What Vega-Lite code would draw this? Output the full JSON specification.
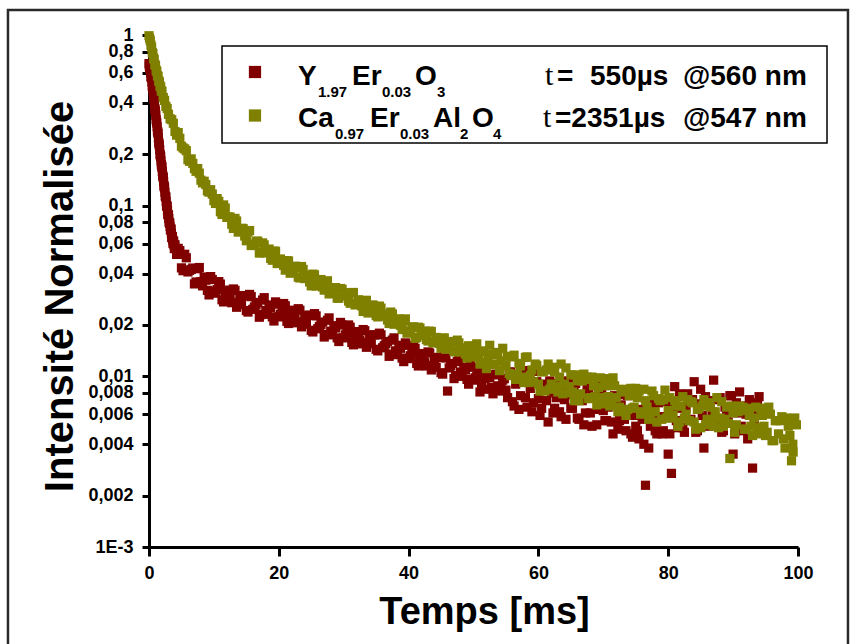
{
 "$schema": "https://vega.github.io/schema/vega-lite/v6.json",
 "width": 649, "height": 512,
 "autosize": {"type": "none"},
 "padding": {"left": 149, "top": 35, "right": 55, "bottom": 97},
 "background": "white",
 "config": {
  "view": {"stroke": null},
  "axis": {"domainColor": "black", "domainWidth": 3, "tickColor": "black", "tickWidth": 3, "labelColor": "black", "labelFont": "Liberation Sans", "labelFontWeight": "bold", "labelFontSize": 18, "titleColor": "black", "grid": false, "labelOverlap": false, "labelFlush": false, "labelBound": false}
 },
 "datasets": {
  "frame": [{"t": -21.73, "t2": 107.7, "v": 1.401, "v2": 0.000249}],
  "box": [{"t": 11.25, "t2": 104.47, "v": 0.862, "v2": 0.233}],
  "red": [
   {"t":0,"v":0.68},{"t":0.1,"v":0.64},{"t":0.2,"v":0.63},{"t":0.3,"v":0.57},{"t":0.4,"v":0.56},{"t":0.5,"v":0.5},{"t":0.6,"v":0.49},{"t":0.7,"v":0.44},{"t":0.8,"v":0.42},{"t":0.9,"v":0.37},
   {"t":1,"v":0.355},{"t":1.1,"v":0.32},{"t":1.2,"v":0.305},{"t":1.3,"v":0.275},{"t":1.4,"v":0.265},{"t":1.5,"v":0.235},{"t":1.6,"v":0.225},{"t":1.7,"v":0.2},{"t":1.8,"v":0.193},{"t":1.9,"v":0.174},
   {"t":2,"v":0.168},{"t":2.1,"v":0.151},{"t":2.2,"v":0.146},{"t":2.3,"v":0.131},{"t":2.4,"v":0.127},{"t":2.5,"v":0.114},{"t":2.6,"v":0.112},{"t":2.7,"v":0.1},{"t":2.8,"v":0.099},{"t":2.9,"v":0.089},
   {"t":3,"v":0.088},{"t":3.1,"v":0.08},{"t":3.2,"v":0.079},{"t":3.3,"v":0.072},{"t":3.4,"v":0.073},{"t":3.5,"v":0.065},{"t":3.6,"v":0.066},{"t":3.7,"v":0.06},{"t":3.8,"v":0.062},{"t":3.9,"v":0.056},
   {"t":0.05,"v":0.66},{"t":0.15,"v":0.635},{"t":0.25,"v":0.6},{"t":0.35,"v":0.565},{"t":0.45,"v":0.53},{"t":0.55,"v":0.495},{"t":0.65,"v":0.465},{"t":0.75,"v":0.43},{"t":0.85,"v":0.395},{"t":0.95,"v":0.362},
   {"t":1.05,"v":0.338},{"t":1.15,"v":0.312},{"t":1.25,"v":0.29},{"t":1.35,"v":0.27},{"t":1.45,"v":0.25},{"t":1.55,"v":0.23},{"t":1.65,"v":0.213},{"t":1.75,"v":0.197},{"t":1.85,"v":0.183},{"t":1.95,"v":0.171},
   {"t":2.05,"v":0.159},{"t":2.15,"v":0.148},{"t":2.25,"v":0.138},{"t":2.35,"v":0.129},{"t":2.45,"v":0.12},{"t":2.55,"v":0.113},{"t":2.65,"v":0.106},{"t":2.75,"v":0.0995},{"t":2.85,"v":0.094},{"t":2.95,"v":0.0885},
   {"t":3.05,"v":0.084},{"t":3.15,"v":0.0795},{"t":3.25,"v":0.0755},{"t":3.35,"v":0.0725},{"t":3.45,"v":0.069},{"t":3.55,"v":0.0655},{"t":3.65,"v":0.063},{"t":3.75,"v":0.061},{"t":3.85,"v":0.059},{"t":3.95,"v":0.0575},
   {"t":4,"v":0.059},{"t":4.5,"v":0.0562},{"t":5,"v":0.0432},{"t":5.5,"v":0.0519},{"t":6,"v":0.0409},{"t":6.5,"v":0.0423},{"t":7,"v":0.0348},{"t":7.5,"v":0.0427},{"t":8,"v":0.0359},{"t":8.5,"v":0.0382},
   {"t":9,"v":0.0319},{"t":9.5,"v":0.0384},{"t":10,"v":0.0307},{"t":10.5,"v":0.0322},{"t":11,"v":0.0347},{"t":11.5,"v":0.0273},{"t":12,"v":0.0314},{"t":12.5,"v":0.0284},{"t":13,"v":0.0325},{"t":13.5,"v":0.0254},
   {"t":14,"v":0.0294},{"t":14.5,"v":0.0297},{"t":15,"v":0.0243},{"t":15.5,"v":0.0302},{"t":16,"v":0.0247},{"t":16.5,"v":0.0262},{"t":17,"v":0.0222},{"t":17.5,"v":0.028},{"t":18,"v":0.0243},{"t":18.5,"v":0.0262},
   {"t":19,"v":0.0223},{"t":19.5,"v":0.0273},{"t":20,"v":0.0223},{"t":20.5,"v":0.0237},{"t":21,"v":0.0259},{"t":21.5,"v":0.0204},{"t":22,"v":0.0239},{"t":22.5,"v":0.0217},{"t":23,"v":0.0249},{"t":23.5,"v":0.0195},
   {"t":24,"v":0.0226},{"t":24.5,"v":0.0228},{"t":25,"v":0.0186},{"t":25.5,"v":0.0233},{"t":26,"v":0.019},{"t":26.5,"v":0.0201},{"t":27,"v":0.017},{"t":27.5,"v":0.0213},{"t":28,"v":0.0184},{"t":28.5,"v":0.0198},
   {"t":29,"v":0.0168},{"t":29.5,"v":0.0207},{"t":30,"v":0.0168},{"t":30.5,"v":0.0179},{"t":31,"v":0.0194},{"t":31.5,"v":0.0153},{"t":32,"v":0.0179},{"t":32.5,"v":0.0163},{"t":33,"v":0.0188},{"t":33.5,"v":0.0148},
   {"t":34,"v":0.0172},{"t":34.5,"v":0.0175},{"t":35,"v":0.0144},{"t":35.5,"v":0.0179},{"t":36,"v":0.0147},{"t":36.5,"v":0.0155},{"t":37,"v":0.0131},{"t":37.5,"v":0.0163},{"t":38,"v":0.0141},{"t":38.5,"v":0.0152},
   {"t":39,"v":0.0128},{"t":39.5,"v":0.0157},{"t":40,"v":0.0127},{"t":40.5,"v":0.0135},{"t":41,"v":0.0146},{"t":41.5,"v":0.0115},{"t":42,"v":0.0133},{"t":42.5,"v":0.0121},{"t":43,"v":0.0139},{"t":43.5,"v":0.0109},
   {"t":44,"v":0.0126},{"t":44.5,"v":0.0129},{"t":45,"v":0.0105},{"t":45.5,"v":0.0131},{"t":46,"v":0.0082},{"t":46.5,"v":0.0115},{"t":47,"v":0.0097},{"t":47.5,"v":0.0122},{"t":48,"v":0.0106},{"t":48.5,"v":0.0113},
   {"t":49,"v":0.0096},{"t":49.5,"v":0.0118},{"t":50,"v":0.0095},{"t":50.5,"v":0.01},{"t":51,"v":0.0081},{"t":51.5,"v":0.0107},{"t":52,"v":0.0084},{"t":52.5,"v":0.0098},{"t":53,"v":0.0079},{"t":53.5,"v":0.0103},
   {"t":54,"v":0.0082},{"t":54.5,"v":0.0095},{"t":55,"v":0.0083},{"t":55.5,"v":0.0106},{"t":56,"v":0.0071},{"t":56.5,"v":0.009},{"t":57,"v":0.0064},{"t":57.5,"v":0.0108},{"t":58,"v":0.0075},{"t":58.5,"v":0.0092},
   {"t":59,"v":0.0062},{"t":59.5,"v":0.0107},{"t":60,"v":0.0074},{"t":60.5,"v":0.0065},{"t":61,"v":0.009},{"t":61.5,"v":0.0054},{"t":62,"v":0.008},{"t":62.5,"v":0.0065},{"t":63,"v":0.0091},{"t":63.5,"v":0.0058},
   {"t":64,"v":0.0073},{"t":64.5,"v":0.0094},{"t":65,"v":0.0065},{"t":65.5,"v":0.0085},{"t":66,"v":0.0057},{"t":66.5,"v":0.0074},{"t":67,"v":0.0052},{"t":67.5,"v":0.0088},{"t":68,"v":0.0061},{"t":68.5,"v":0.0076},
   {"t":69,"v":0.0052},{"t":69.5,"v":0.009},{"t":70,"v":0.0063},{"t":70.5,"v":0.0055},{"t":71,"v":0.0076},{"t":71.5,"v":0.0046},{"t":72,"v":0.0068},{"t":72.5,"v":0.0055},{"t":73,"v":0.0078},{"t":73.5,"v":0.0048},
   {"t":74,"v":0.0059},{"t":74.5,"v":0.0044},{"t":75,"v":0.0051},{"t":75.5,"v":0.0043},{"t":76,"v":0.0056},{"t":76.5,"v":0.0023},{"t":77,"v":0.0038},{"t":77.5,"v":0.0058},{"t":78,"v":0.0048},{"t":78.5,"v":0.007},
   {"t":79,"v":0.0046},{"t":79.5,"v":0.0058},{"t":80,"v":0.0035},{"t":80.5,"v":0.0027},{"t":81,"v":0.0087},{"t":81.5,"v":0.005},{"t":82,"v":0.0065},{"t":82.5,"v":0.0047},{"t":83,"v":0.0079},{"t":83.5,"v":0.0056},
   {"t":84,"v":0.0093},{"t":84.5,"v":0.0048},{"t":85,"v":0.0084},{"t":85.5,"v":0.0038},{"t":86,"v":0.0052},{"t":86.5,"v":0.0072},{"t":87,"v":0.0095},{"t":87.5,"v":0.0053},{"t":88,"v":0.0075},{"t":88.5,"v":0.0048},
   {"t":89,"v":0.006},{"t":89.5,"v":0.0077},{"t":90,"v":0.0035},{"t":90.5,"v":0.007},{"t":91,"v":0.0081},{"t":91.5,"v":0.0048},{"t":92,"v":0.006},{"t":92.5,"v":0.0073},{"t":93,"v":0.0029},{"t":93.5,"v":0.0063},
   {"t":94,"v":0.0076},
   {"t":4.25,"v":0.0518},{"t":4.75,"v":0.0545},{"t":5.25,"v":0.0416},{"t":5.75,"v":0.0495},{"t":6.25,"v":0.0418},{"t":6.75,"v":0.0431},{"t":7.25,"v":0.0357},{"t":7.75,"v":0.0434},{"t":8.25,"v":0.0339},{"t":8.75,"v":0.0366},
   {"t":9.25,"v":0.03},{"t":9.75,"v":0.0369},{"t":10.25,"v":0.0316},{"t":10.75,"v":0.0359},{"t":11.25,"v":0.0281},{"t":11.75,"v":0.0309},{"t":12.25,"v":0.032},{"t":12.75,"v":0.027},{"t":13.25,"v":0.0319},{"t":13.75,"v":0.0271},
   {"t":14.25,"v":0.0263},{"t":14.75,"v":0.0296},{"t":15.25,"v":0.0238},{"t":15.75,"v":0.0293},{"t":16.25,"v":0.0255},{"t":16.75,"v":0.0271},{"t":17.25,"v":0.023},{"t":17.75,"v":0.0289},{"t":18.25,"v":0.0231},{"t":18.75,"v":0.0253},
   {"t":19.25,"v":0.0211},{"t":19.75,"v":0.0265},{"t":20.25,"v":0.0231},{"t":20.75,"v":0.0267},{"t":21.25,"v":0.021},{"t":21.75,"v":0.0233},{"t":22.25,"v":0.0244},{"t":22.75,"v":0.0206},{"t":23.25,"v":0.0244},{"t":23.75,"v":0.0208},
   {"t":24.25,"v":0.0202},{"t":24.75,"v":0.0228},{"t":25.25,"v":0.0182},{"t":25.75,"v":0.0226},{"t":26.25,"v":0.0196},{"t":26.75,"v":0.0208},{"t":27.25,"v":0.0176},{"t":27.75,"v":0.022},{"t":28.25,"v":0.0175},{"t":28.75,"v":0.0192},
   {"t":29.25,"v":0.016},{"t":29.75,"v":0.02},{"t":30.25,"v":0.0175},{"t":30.75,"v":0.02},{"t":31.25,"v":0.0158},{"t":31.75,"v":0.0175},{"t":32.25,"v":0.0183},{"t":32.75,"v":0.0155},{"t":33.25,"v":0.0185},{"t":33.75,"v":0.0158},
   {"t":34.25,"v":0.0155},{"t":34.75,"v":0.0175},{"t":35.25,"v":0.0141},{"t":35.75,"v":0.0175},{"t":36.25,"v":0.0151},{"t":36.75,"v":0.016},{"t":37.25,"v":0.0135},{"t":37.75,"v":0.0168},{"t":38.25,"v":0.0134},{"t":38.75,"v":0.0146},
   {"t":39.25,"v":0.0122},{"t":39.75,"v":0.0152},{"t":40.25,"v":0.0132},{"t":40.75,"v":0.0151},{"t":41.25,"v":0.0119},{"t":41.75,"v":0.013},{"t":42.25,"v":0.0136},{"t":42.75,"v":0.0115},{"t":43.25,"v":0.0137},{"t":43.75,"v":0.0116},
   {"t":44.25,"v":0.0113},{"t":44.75,"v":0.0129},{"t":45.25,"v":0.0103},{"t":45.75,"v":0.0128},{"t":46.25,"v":0.0112},{"t":46.75,"v":0.0119},{"t":47.25,"v":0.0101},{"t":47.75,"v":0.0125},{"t":48.25,"v":0.01},{"t":48.75,"v":0.0109},
   {"t":49.25,"v":0.009},{"t":49.75,"v":0.0113},{"t":50.25,"v":0.0098},{"t":50.75,"v":0.0112},{"t":51.25,"v":0.0088},{"t":51.75,"v":0.0097},{"t":52.25,"v":0.0101},{"t":52.75,"v":0.0086},{"t":53.25,"v":0.0102},{"t":53.75,"v":0.0088},
   {"t":54.25,"v":0.0086},{"t":54.75,"v":0.0097},{"t":55.25,"v":0.0075},{"t":55.75,"v":0.0106},{"t":56.25,"v":0.0067},{"t":56.75,"v":0.0094},{"t":57.25,"v":0.0077},{"t":57.75,"v":0.0108},{"t":58.25,"v":0.0066},{"t":58.75,"v":0.0085},
   {"t":59.25,"v":0.007},{"t":59.75,"v":0.0093},{"t":60.25,"v":0.0059},{"t":60.75,"v":0.0086},{"t":61.25,"v":0.0072},{"t":61.75,"v":0.0094},{"t":62.25,"v":0.0061},{"t":62.75,"v":0.0075},{"t":63.25,"v":0.0062},{"t":63.75,"v":0.0088},
   {"t":64.25,"v":0.0056},{"t":64.75,"v":0.0078},{"t":65.25,"v":0.0065},{"t":65.75,"v":0.0091},{"t":66.25,"v":0.0056},{"t":66.75,"v":0.0072},{"t":67.25,"v":0.0061},{"t":67.75,"v":0.008},{"t":68.25,"v":0.0051},{"t":68.75,"v":0.0075},
   {"t":69.25,"v":0.0064},{"t":69.75,"v":0.0083},{"t":70.25,"v":0.0055},{"t":70.75,"v":0.0066},{"t":71.25,"v":0.0054},{"t":71.75,"v":0.0077},{"t":72.25,"v":0.0049},{"t":72.75,"v":0.0068},{"t":73.25,"v":0.0056},{"t":73.75,"v":0.0077},
   {"t":74.25,"v":0.0046},{"t":74.75,"v":0.0059},{"t":75.25,"v":0.0048},{"t":75.75,"v":0.0064},{"t":76.25,"v":0.004},{"t":76.75,"v":0.0059},{"t":77.25,"v":0.0051},{"t":77.75,"v":0.0069},{"t":78.25,"v":0.0046},{"t":78.75,"v":0.0058},
   {"t":79.25,"v":0.0048},{"t":79.75,"v":0.0071},{"t":80.25,"v":0.0046},{"t":80.75,"v":0.0066},{"t":81.25,"v":0.0055},{"t":81.75,"v":0.0079},{"t":82.25,"v":0.005},{"t":82.75,"v":0.0065},{"t":83.25,"v":0.0055},{"t":83.75,"v":0.0073},
   {"t":84.25,"v":0.0047},{"t":84.75,"v":0.0069},{"t":85.25,"v":0.0059},{"t":85.75,"v":0.0076},{"t":86.25,"v":0.0051},{"t":86.75,"v":0.0062},{"t":87.25,"v":0.0052},{"t":87.75,"v":0.0073},{"t":88.25,"v":0.0047},{"t":88.75,"v":0.0066},
   {"t":89.25,"v":0.0054},{"t":89.75,"v":0.0077},{"t":90.25,"v":0.0046},{"t":90.75,"v":0.0061},{"t":91.25,"v":0.0051},{"t":91.75,"v":0.0067},{"t":92.25,"v":0.0043},{"t":92.75,"v":0.0064},{"t":93.25,"v":0.0053},{"t":93.75,"v":0.007}
  ],
  "olive": [
   {"t":0,"v":0.99},{"t":0.1,"v":0.955},{"t":0.2,"v":0.925},{"t":0.3,"v":0.872},{"t":0.4,"v":0.848},{"t":0.5,"v":0.79},{"t":0.6,"v":0.778},{"t":0.7,"v":0.732},{"t":0.8,"v":0.718},{"t":0.9,"v":0.672},
   {"t":1,"v":0.662},{"t":1.1,"v":0.622},{"t":1.2,"v":0.612},{"t":1.3,"v":0.578},{"t":1.4,"v":0.572},{"t":1.5,"v":0.538},{"t":1.6,"v":0.531},{"t":1.7,"v":0.502},{"t":1.8,"v":0.497},{"t":1.9,"v":0.471},
   {"t":2,"v":0.467},{"t":2.2,"v":0.43},{"t":2.4,"v":0.414},{"t":2.6,"v":0.382},{"t":2.8,"v":0.371},{"t":3,"v":0.343},{"t":3.5,"v":0.319},{"t":4,"v":0.272},{"t":4.5,"v":0.268},{"t":5,"v":0.223},
   {"t":5.5,"v":0.215},{"t":6,"v":0.186},{"t":6.5,"v":0.188},{"t":7,"v":0.165},{"t":7.5,"v":0.165},{"t":8,"v":0.141},{"t":8.5,"v":0.139},{"t":9,"v":0.122},{"t":9.5,"v":0.124},{"t":10,"v":0.107},
   {"t":10.5,"v":0.11},{"t":11,"v":0.0921},{"t":11.5,"v":0.101},{"t":12,"v":0.0854},{"t":12.5,"v":0.0857},{"t":13,"v":0.0736},{"t":13.5,"v":0.0813},{"t":14,"v":0.0723},{"t":14.5,"v":0.0735},{"t":15,"v":0.0623},
   {"t":15.5,"v":0.0715},{"t":16,"v":0.0595},{"t":16.5,"v":0.0618},{"t":17,"v":0.0528},{"t":17.5,"v":0.0605},{"t":18,"v":0.0529},{"t":18.5,"v":0.0557},{"t":19,"v":0.0479},{"t":19.5,"v":0.054},{"t":20,"v":0.0466},
   {"t":20.5,"v":0.0476},{"t":21,"v":0.0419},{"t":21.5,"v":0.0474},{"t":22,"v":0.0428},{"t":22.5,"v":0.0442},{"t":23,"v":0.0381},{"t":23.5,"v":0.044},{"t":24,"v":0.0374},{"t":24.5,"v":0.0391},{"t":25,"v":0.0339},
   {"t":25.5,"v":0.0393},{"t":26,"v":0.0349},{"t":26.5,"v":0.0369},{"t":27,"v":0.032},{"t":27.5,"v":0.0363},{"t":28,"v":0.0316},{"t":28.5,"v":0.0325},{"t":29,"v":0.0287},{"t":29.5,"v":0.0327},{"t":30,"v":0.0297},
   {"t":30.5,"v":0.0309},{"t":31,"v":0.0268},{"t":31.5,"v":0.031},{"t":32,"v":0.0265},{"t":32.5,"v":0.0278},{"t":33,"v":0.024},{"t":33.5,"v":0.0279},{"t":34,"v":0.0247},{"t":34.5,"v":0.0262},{"t":35,"v":0.0227},
   {"t":35.5,"v":0.0258},{"t":36,"v":0.0225},{"t":36.5,"v":0.0232},{"t":37,"v":0.0204},{"t":37.5,"v":0.0232},{"t":38,"v":0.021},{"t":38.5,"v":0.0217},{"t":39,"v":0.0188},{"t":39.5,"v":0.0217},{"t":40,"v":0.0184},
   {"t":40.5,"v":0.0194},{"t":41,"v":0.0167},{"t":41.5,"v":0.0194},{"t":42,"v":0.0173},{"t":42.5,"v":0.0184},{"t":43,"v":0.0161},{"t":43.5,"v":0.0183},{"t":44,"v":0.016},{"t":44.5,"v":0.0165},{"t":45,"v":0.0146},
   {"t":45.5,"v":0.0168},{"t":46,"v":0.0153},{"t":46.5,"v":0.016},{"t":47,"v":0.014},{"t":47.5,"v":0.0163},{"t":48,"v":0.0139},{"t":48.5,"v":0.0147},{"t":49,"v":0.0128},{"t":49.5,"v":0.015},{"t":50,"v":0.0134},
   {"t":50.5,"v":0.0155},{"t":51,"v":0.0118},{"t":51.5,"v":0.0139},{"t":52,"v":0.0111},{"t":52.5,"v":0.0152},{"t":53,"v":0.0118},{"t":53.5,"v":0.0138},{"t":54,"v":0.0108},{"t":54.5,"v":0.0146},{"t":55,"v":0.0116},
   {"t":55.5,"v":0.0104},{"t":56,"v":0.013},{"t":56.5,"v":0.0096},{"t":57,"v":0.0119},{"t":57.5,"v":0.0099},{"t":58,"v":0.0129},{"t":58.5,"v":0.0092},{"t":59,"v":0.0109},{"t":59.5,"v":0.0118},{"t":60,"v":0.009},
   {"t":60.5,"v":0.0106},{"t":61,"v":0.0082},{"t":61.5,"v":0.0118},{"t":62,"v":0.009},{"t":62.5,"v":0.0106},{"t":63,"v":0.0081},{"t":63.5,"v":0.0118},{"t":64,"v":0.009},{"t":64.5,"v":0.008},{"t":65,"v":0.0102},
   {"t":65.5,"v":0.0072},{"t":66,"v":0.0094},{"t":66.5,"v":0.0079},{"t":67,"v":0.0103},{"t":67.5,"v":0.0099},{"t":68,"v":0.0075},{"t":68.5,"v":0.0088},{"t":69,"v":0.0068},{"t":69.5,"v":0.0098},{"t":70,"v":0.0075},
   {"t":70.5,"v":0.0088},{"t":71,"v":0.0067},{"t":71.5,"v":0.0098},{"t":72,"v":0.0075},{"t":72.5,"v":0.0066},{"t":73,"v":0.0084},{"t":73.5,"v":0.0059},{"t":74,"v":0.0077},{"t":74.5,"v":0.0065},{"t":75,"v":0.0085},
   {"t":75.5,"v":0.0082},{"t":76,"v":0.0062},{"t":76.5,"v":0.0072},{"t":77,"v":0.0056},{"t":77.5,"v":0.0082},{"t":78,"v":0.0062},{"t":78.5,"v":0.0074},{"t":79,"v":0.0056},{"t":79.5,"v":0.0083},{"t":80,"v":0.0063},
   {"t":80.5,"v":0.0057},{"t":81,"v":0.0072},{"t":81.5,"v":0.0051},{"t":82,"v":0.0067},{"t":82.5,"v":0.0057},{"t":83,"v":0.0073},{"t":83.5,"v":0.0071},{"t":84,"v":0.0054},{"t":84.5,"v":0.0064},{"t":85,"v":0.005},
   {"t":85.5,"v":0.0073},{"t":86,"v":0.0056},{"t":86.5,"v":0.0066},{"t":87,"v":0.0051},{"t":87.5,"v":0.0075},{"t":88,"v":0.0057},{"t":88.5,"v":0.0051},{"t":89,"v":0.0066},{"t":89.5,"v":0.0033},{"t":90,"v":0.0061},
   {"t":90.5,"v":0.0052},{"t":91,"v":0.0067},{"t":91.5,"v":0.0066},{"t":92,"v":0.0049},{"t":92.5,"v":0.0059},{"t":93,"v":0.0045},{"t":93.5,"v":0.0066},{"t":94,"v":0.005},{"t":94.5,"v":0.0059},{"t":95,"v":0.0045},
   {"t":95.5,"v":0.0066},{"t":96,"v":0.0042},{"t":96.5,"v":0.0055},{"t":97,"v":0.0046},{"t":97.5,"v":0.0058},{"t":98,"v":0.0038},{"t":98.5,"v":0.0051},{"t":99,"v":0.0032},{"t":99.2,"v":0.004},{"t":99.5,"v":0.0057},
   {"t":3.25,"v":0.323},{"t":3.75,"v":0.304},{"t":4.25,"v":0.259},{"t":4.75,"v":0.248},{"t":5.25,"v":0.218},{"t":5.75,"v":0.21},{"t":6.25,"v":0.182},{"t":6.75,"v":0.177},{"t":7.25,"v":0.159},{"t":7.75,"v":0.155},
   {"t":8.25,"v":0.136},{"t":8.75,"v":0.133},{"t":9.25,"v":0.12},{"t":9.75,"v":0.117},{"t":10.25,"v":0.103},{"t":10.75,"v":0.106},{"t":11.25,"v":0.0888},{"t":11.75,"v":0.0968},{"t":12.25,"v":0.086},{"t":12.75,"v":0.0779},
   {"t":13.25,"v":0.0842},{"t":13.75,"v":0.07},{"t":14.25,"v":0.0736},{"t":14.75,"v":0.0664},{"t":15.25,"v":0.07},{"t":15.75,"v":0.0584},{"t":16.25,"v":0.0586},{"t":16.75,"v":0.062},{"t":17.25,"v":0.053},{"t":17.75,"v":0.0589},
   {"t":18.25,"v":0.0532},{"t":18.75,"v":0.0491},{"t":19.25,"v":0.0542},{"t":19.75,"v":0.0458},{"t":20.25,"v":0.0487},{"t":20.75,"v":0.0447},{"t":21.25,"v":0.0476},{"t":21.75,"v":0.0402},{"t":22.25,"v":0.0409},{"t":22.75,"v":0.0436},
   {"t":23.25,"v":0.0377},{"t":23.75,"v":0.0423},{"t":24.25,"v":0.0385},{"t":24.75,"v":0.0357},{"t":25.25,"v":0.0397},{"t":25.75,"v":0.0338},{"t":26.25,"v":0.0363},{"t":26.75,"v":0.0334},{"t":27.25,"v":0.0356},{"t":27.75,"v":0.0304},
   {"t":28.25,"v":0.0309},{"t":28.75,"v":0.0331},{"t":29.25,"v":0.0287},{"t":29.75,"v":0.0324},{"t":30.25,"v":0.0297},{"t":30.75,"v":0.0276},{"t":31.25,"v":0.0308},{"t":31.75,"v":0.0262},{"t":32.25,"v":0.0281},{"t":32.75,"v":0.0259},
   {"t":33.25,"v":0.0277},{"t":33.75,"v":0.0235},{"t":34.25,"v":0.024},{"t":34.75,"v":0.0257},{"t":35.25,"v":0.0223},{"t":35.75,"v":0.0251},{"t":36.25,"v":0.023},{"t":36.75,"v":0.0214},{"t":37.25,"v":0.0238},{"t":37.75,"v":0.0202},
   {"t":38.25,"v":0.0216},{"t":38.75,"v":0.0199},{"t":39.25,"v":0.0212},{"t":39.75,"v":0.0179},{"t":40.25,"v":0.0182},{"t":40.75,"v":0.0195},{"t":41.25,"v":0.0169},{"t":41.75,"v":0.0192},{"t":42.25,"v":0.0176},{"t":42.75,"v":0.0164},
   {"t":43.25,"v":0.0184},{"t":43.75,"v":0.0157},{"t":44.25,"v":0.0169},{"t":44.75,"v":0.0156},{"t":45.25,"v":0.0167},{"t":45.75,"v":0.0144},{"t":46.25,"v":0.0148},{"t":46.75,"v":0.0159},{"t":47.25,"v":0.0139},{"t":47.75,"v":0.0157},
   {"t":48.25,"v":0.0144},{"t":48.75,"v":0.0135},{"t":49.25,"v":0.0151},{"t":49.75,"v":0.013},{"t":50.25,"v":0.014},{"t":50.75,"v":0.013},{"t":51.25,"v":0.0141},{"t":51.75,"v":0.0121},{"t":52.25,"v":0.0124},{"t":52.75,"v":0.0134},
   {"t":53.25,"v":0.0117},{"t":53.75,"v":0.0134},{"t":54.25,"v":0.0123},{"t":54.75,"v":0.0115},{"t":55.25,"v":0.0131},{"t":55.75,"v":0.0101},{"t":56.25,"v":0.0133},{"t":56.75,"v":0.0103},{"t":57.25,"v":0.0115},{"t":57.75,"v":0.0092},
   {"t":58.25,"v":0.013},{"t":58.75,"v":0.0101},{"t":59.25,"v":0.0093},{"t":59.75,"v":0.0116},{"t":60.25,"v":0.0082},{"t":60.75,"v":0.0107},{"t":61.25,"v":0.0109},{"t":61.75,"v":0.0084},{"t":62.25,"v":0.0113},{"t":62.75,"v":0.0087},
   {"t":63.25,"v":0.0099},{"t":63.75,"v":0.0079},{"t":64.25,"v":0.0112},{"t":64.75,"v":0.0087},{"t":65.25,"v":0.0081},{"t":65.75,"v":0.0102},{"t":66.25,"v":0.0072},{"t":66.75,"v":0.0094},{"t":67.25,"v":0.0096},{"t":67.75,"v":0.0074},
   {"t":68.25,"v":0.0099},{"t":68.75,"v":0.0076},{"t":69.25,"v":0.0086},{"t":69.75,"v":0.0069},{"t":70.25,"v":0.0097},{"t":70.75,"v":0.0076},{"t":71.25,"v":0.007},{"t":71.75,"v":0.0088},{"t":72.25,"v":0.0062},{"t":72.75,"v":0.0081},
   {"t":73.25,"v":0.0083},{"t":73.75,"v":0.0064},{"t":74.25,"v":0.0085},{"t":74.75,"v":0.0066},{"t":75.25,"v":0.0075},{"t":75.75,"v":0.006},{"t":76.25,"v":0.0084},{"t":76.75,"v":0.0066},{"t":77.25,"v":0.0061},{"t":77.75,"v":0.0077},
   {"t":78.25,"v":0.0054},{"t":78.75,"v":0.0072},{"t":79.25,"v":0.0073},{"t":79.75,"v":0.0057},{"t":80.25,"v":0.0075},{"t":80.75,"v":0.0059},{"t":81.25,"v":0.0067},{"t":81.75,"v":0.0054},{"t":82.25,"v":0.0076},{"t":82.75,"v":0.006},
   {"t":83.25,"v":0.0055},{"t":83.75,"v":0.007},{"t":84.25,"v":0.0049},{"t":84.75,"v":0.0065},{"t":85.25,"v":0.0067},{"t":85.75,"v":0.0052},{"t":86.25,"v":0.007},{"t":86.75,"v":0.0055},{"t":87.25,"v":0.0062},{"t":87.75,"v":0.005},
   {"t":88.25,"v":0.0071},{"t":88.75,"v":0.0056},{"t":89.25,"v":0.0053},{"t":89.75,"v":0.0067},{"t":90.25,"v":0.0047},{"t":90.75,"v":0.0062},{"t":91.25,"v":0.0063},{"t":91.75,"v":0.0049},{"t":92.25,"v":0.0065},{"t":92.75,"v":0.0051},
   {"t":93.25,"v":0.0057},{"t":93.75,"v":0.0046},{"t":94.25,"v":0.0065},{"t":94.75,"v":0.0051},{"t":95.25,"v":0.0047},{"t":95.75,"v":0.006},{"t":96.25,"v":0.0042},{"t":96.75,"v":0.0055},{"t":97.25,"v":0.0055},{"t":97.75,"v":0.0043},
   {"t":98.25,"v":0.0057},{"t":98.75,"v":0.0045},{"t":99.25,"v":0.0036},{"t":99.75,"v":0.0052}
  ],
  "legendSym": [{"t": 16.33, "v": 0.607, "s": "Y"}, {"t": 16.33, "v": 0.3375, "s": "Ca"}],
  "legendMain": [
   {"t":22.96,"v":0.5093,"txt":"Y"},{"t":31.28,"v":0.5093,"txt":"Er"},{"t":40.99,"v":0.5093,"txt":"O"},{"t":62.87,"v":0.5093,"txt":"="},{"t":67.95,"v":0.5093,"txt":"550µs"},{"t":82.28,"v":0.5093,"txt":"@560 nm"},
   {"t":22.96,"v":0.289,"txt":"Ca"},{"t":34.05,"v":0.289,"txt":"Er"},{"t":43.76,"v":0.289,"txt":"Al"},{"t":49.77,"v":0.289,"txt":"O"},{"t":62.56,"v":0.289,"txt":"=2351µs"},{"t":82.28,"v":0.289,"txt":"@547 nm"}
  ],
  "legendSub": [
   {"t":26.04,"v":0.4331,"txt":"1.97"},{"t":35.9,"v":0.4331,"txt":"0.03"},{"t":44.38,"v":0.4331,"txt":"3"},
   {"t":28.66,"v":0.2458,"txt":"0.97"},{"t":38.67,"v":0.2458,"txt":"0.03"},{"t":47.92,"v":0.2458,"txt":"2"},{"t":53.0,"v":0.2458,"txt":"4"}
  ],
  "legendT": [{"t":61.02,"v":0.5093,"txt":"t"},{"t":60.71,"v":0.289,"txt":"t"}]
 },
 "encoding": {
  "x": {"field": "t", "type": "quantitative", "scale": {"domain": [0, 100], "nice": false, "zero": false},
        "axis": {"values": [0, 20, 40, 60, 80, 100], "format": "d", "tickSize": 9, "labelPadding": 8, "title": "Temps [ms]", "titleFont": "Liberation Sans", "titleFontSize": 38, "titleFontWeight": "bold", "titleX": 335, "titleY": 76, "titleBaseline": "alphabetic", "titleAlign": "center"}},
  "y": {"field": "v", "type": "quantitative", "scale": {"type": "log", "domain": [0.001, 1], "nice": false},
        "axis": {"values": [0.001, 0.002, 0.004, 0.006, 0.008, 0.01, 0.02, 0.04, 0.06, 0.08, 0.1, 0.2, 0.4, 0.6, 0.8, 1], "labelExpr": "datum.value < 0.0015 ? '1E-3' : replace(toString(datum.value), '.', ',')", "tickSize": 7, "labelPadding": 9, "title": "Intensité Normalisée", "titleFont": "Liberation Sans", "titleFontSize": 40, "titleFontWeight": "bold", "titleX": -77, "titleY": 261, "titleBaseline": "alphabetic", "titleAlign": "center", "titleAngle": 270}}
 },
 "layer": [
  {"data": {"name": "frame"}, "mark": {"type": "rect", "filled": false, "color": "#2a2a2a", "strokeWidth": 2.5, "clip": false}, "encoding": {"x2": {"field": "t2"}, "y2": {"field": "v2"}}},
  {"data": {"name": "box"}, "mark": {"type": "rect", "fill": "white", "stroke": "black", "strokeWidth": 1.5, "clip": false}, "encoding": {"x2": {"field": "t2"}, "y2": {"field": "v2"}}},
  {"data": {"name": "red"}, "mark": {"type": "point", "shape": "square", "filled": true, "color": "#800000", "size": 85, "opacity": 1}},
  {"data": {"name": "olive"}, "mark": {"type": "point", "shape": "square", "filled": true, "color": "#808000", "size": 85, "opacity": 1}},
  {"data": {"name": "legendSym"}, "mark": {"type": "point", "shape": "square", "filled": true, "size": 150, "opacity": 1},
   "encoding": {"color": {"field": "s", "type": "nominal", "scale": {"domain": ["Y", "Ca"], "range": ["#800000", "#808000"]}, "legend": null}}},
  {"data": {"name": "legendMain"}, "mark": {"type": "text", "font": "Liberation Sans", "fontWeight": "bold", "fontSize": 28, "align": "left", "baseline": "alphabetic", "color": "black"}, "encoding": {"text": {"field": "txt"}}},
  {"data": {"name": "legendSub"}, "mark": {"type": "text", "font": "Liberation Sans", "fontWeight": "bold", "fontSize": 15, "align": "left", "baseline": "alphabetic", "color": "black"}, "encoding": {"text": {"field": "txt"}}},
  {"data": {"name": "legendT"}, "mark": {"type": "text", "font": "Liberation Serif", "fontSize": 30, "align": "left", "baseline": "alphabetic", "color": "black"}, "encoding": {"text": {"field": "txt"}}}
 ]
}
